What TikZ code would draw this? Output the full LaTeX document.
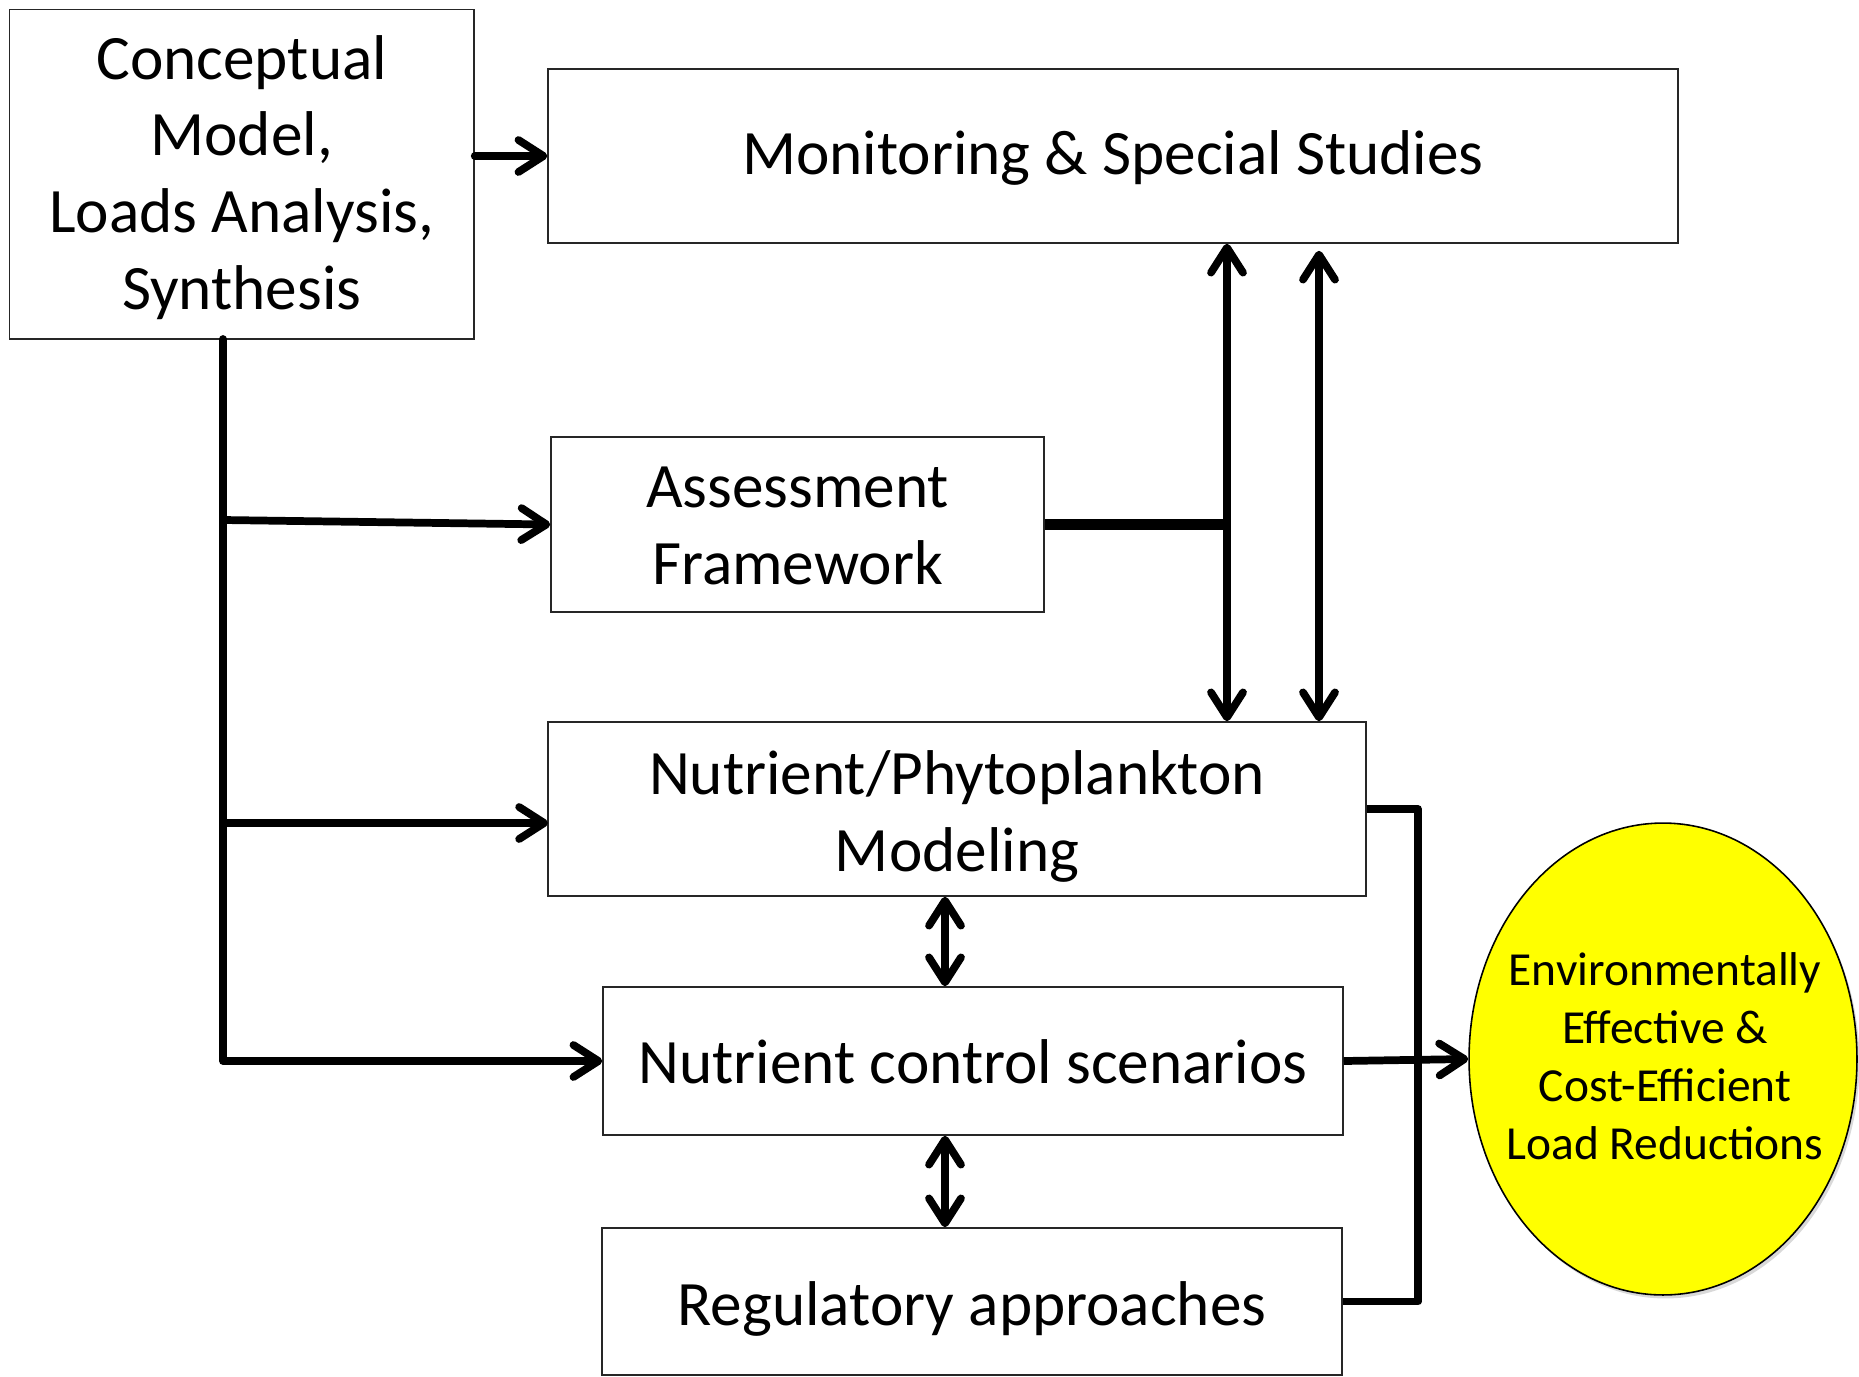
\documentclass[tikz,border=0pt]{standalone}
\usepackage{fontspec}
\setmainfont{Carlito}
\usetikzlibrary{arrows.meta,shapes.geometric,shadows}
\newcommand{\lowertext}[2]{\raisebox{#1}[\height][\depth]{\begin{tabular}{@{}c@{}}#2\end{tabular}}}
\begin{document}
\begin{tikzpicture}[x=0.02cm,y=-0.02cm,
  box/.style={draw=black!85, line width=0.9pt, fill=white, align=center, inner sep=0pt,
    font=\fontsize{36}{43.7}\selectfont},
  conn/.style={line width=4.4pt, line cap=round, line join=round},
  tip/.tip={Straight Barb[length=0.5cm,width=0.64cm,round]},
  arr/.style={conn, -tip},
  dbl/.style={conn, tip-tip},
  goal/.style={ellipse, draw=black, line width=0.9pt, fill={rgb,255:red,255;green,255;blue,0},
    inner sep=0pt,
    drop shadow={shadow xshift=0.05cm, shadow yshift=-0.07cm, opacity=0.3}},
  goaltext/.style={align=center, inner sep=0pt, font=\fontsize{27}{32.9}\selectfont}
]
\useasboundingbox (0,0) rectangle (1859,1376);

\node[box, minimum width=9.29cm, minimum height=6.59cm] (concept) at (241.75,174.25)
  {\lowertext{-0.095cm}{Conceptual\\Model,\\Loads Analysis,\\Synthesis}};
\node[box, minimum width=22.6cm, minimum height=3.48cm] (monitor) at (1113,156)
  {\lowertext{-0.06cm}{Monitoring \& Special Studies}};
\node[box, minimum width=9.86cm, minimum height=3.5cm] (assess) at (797.5,524.5)
  {\lowertext{-0.115cm}{Assessment\\Framework}};
\node[box, minimum width=16.36cm, minimum height=3.48cm] (phyto) at (957,809)
  {\lowertext{-0.17cm}{Nutrient/Phytoplankton\\Modeling}};
\node[box, minimum width=14.8cm, minimum height=2.96cm] (control) at (973,1061)
  {\lowertext{-0.145cm}{Nutrient control scenarios}};
\node[box, minimum width=14.8cm, minimum height=2.94cm] (reg) at (972,1301.5)
  {\lowertext{-0.17cm}{Regulatory approaches}};
\node[goal, minimum width=7.76cm, minimum height=9.44cm] (goal) at (1663,1059) {};
\node[goaltext] (goaltxt) at (1665,1056)
  {Environmentally\\Effective \&\\Cost-Efficient\\Load Reductions};

\coordinate (trunk) at (223,339);
\coordinate (ta) at (223,520);
\coordinate (tp) at (223,823);
\coordinate (pin) at (548,823);
\coordinate (xa) at (1227,0);
\coordinate (xb) at (1319,0);
\coordinate (xm) at (945,0);
\coordinate (bus) at (1418,0);

% conceptual to monitoring
\draw[arr] (concept.east |- monitor.west) -- (monitor.west);
% trunk
\draw[arr] (trunk) |- (control.west);
\draw[arr] (ta) -- (assess.west);
\draw[arr] (tp) -- (pin);

% assessment link
\draw[line width=5.8pt] (assess.east) -- (assess.east -| xa);
% long double arrows
\draw[dbl] (monitor.south -| xa) -- (phyto.north -| xa);
\draw[dbl] ([yshift=-0.14cm]monitor.south -| xb) -- (phyto.north -| xb);
% short double arrows
\draw[dbl] (phyto.south -| xm) -- (control.north -| xm);
\draw[dbl] (control.south -| xm) -- (reg.north -| xm);

% right bus
\draw[conn, line cap=butt] (phyto.east) -| (bus |- reg.east) -- (reg.east);
\draw[arr, line cap=butt] (control.east) -- (goal.west);
\end{tikzpicture}
\end{document}
